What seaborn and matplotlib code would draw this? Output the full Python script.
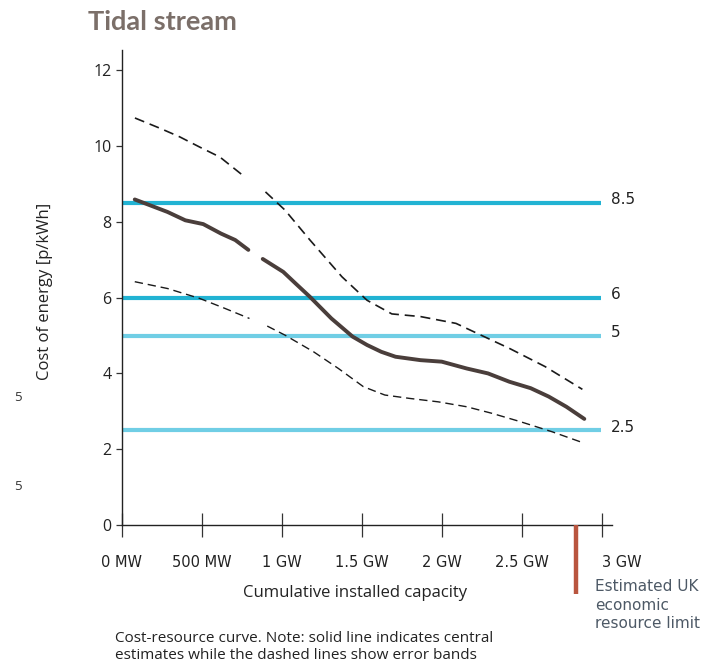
import matplotlib
matplotlib.use("Agg")
import matplotlib.pyplot as plt
import seaborn as sns
import pandas as pd

# central estimate (two pieces, gap around 850 MW)
central_mw_a = [80, 285, 396, 508, 619, 708, 790]
central_a = [8.59, 8.26, 8.04, 7.94, 7.69, 7.52, 7.26]
central_mw_b = [880, 1008, 1086, 1175, 1309, 1442, 1532, 1621, 1710, 1866,
                1999, 2155, 2288, 2422, 2555, 2667, 2778, 2890]
central_b = [7.02, 6.68, 6.37, 6.02, 5.45, 4.97, 4.75, 4.57, 4.44, 4.35,
             4.31, 4.13, 4.00, 3.78, 3.61, 3.39, 3.12, 2.80]

# upper error band
upper_mw_a = [81, 237, 362, 487, 612, 769]
upper_a = [10.74, 10.47, 10.24, 9.97, 9.71, 9.18]
upper_mw_b = [897, 1019, 1175, 1375, 1532, 1687, 1866, 2088, 2244, 2422, 2645, 2878]
upper_b = [8.79, 8.31, 7.52, 6.55, 5.93, 5.57, 5.50, 5.32, 5.01, 4.66, 4.18, 3.58]

# lower error band
lower_mw_a = [80, 285, 485, 641, 797]
lower_a = [6.42, 6.24, 5.98, 5.72, 5.45]
lower_mw_b = [908, 1019, 1198, 1353, 1509, 1643, 1799, 1977, 2155, 2310,
              2488, 2689, 2889]
lower_b = [5.25, 5.01, 4.57, 4.13, 3.65, 3.43, 3.34, 3.25, 3.12, 2.95,
           2.73, 2.46, 2.16]

# reference price levels
levels = [8.5, 6, 5, 2.5]
level_labels = ["8.5", "6", "5", "2.5"]
level_colors = ["#22b3d3", "#22b3d3", "#70cee5", "#70cee5"]

x_ticks = [0, 500, 1000, 1500, 2000, 2500, 3000]
x_tick_labels = ["0 MW", "500 MW", "1 GW", "1.5 GW", "2 GW", "2.5 GW", "3 GW"]
y_ticks = [0, 2, 4, 6, 8, 10, 12]

resource_limit_mw = 2837


def make_df(mw_a, val_a, mw_b, val_b):
    return pd.DataFrame({
        "mw": mw_a + mw_b,
        "cost": val_a + val_b,
        "seg": ["a"] * len(mw_a) + ["b"] * len(mw_b),
    })


sns.set_style("ticks")
plt.rcParams["font.family"] = ["Open Sans", "DejaVu Sans"]

fig = plt.figure(figsize=(7.12, 6.66), dpi=100)
ax = fig.add_axes([0.1713, 0.2117, 0.688, 0.713])

ax.hlines(levels, 0, 2995, colors=level_colors, lw=3.0, zorder=1)
for lv, lab in zip(levels, level_labels):
    ax.text(3055, lv + 0.08, lab, fontsize=11, color="#222222",
            va="center", ha="left", clip_on=False, family="DejaVu Sans")

sns.lineplot(data=make_df(upper_mw_a, upper_a, upper_mw_b, upper_b),
             x="mw", y="cost", units="seg", estimator=None, ax=ax,
             color="#1a1a1a", lw=1.2, linestyle=(0, (6, 3.5)), zorder=2)
sns.lineplot(data=make_df(lower_mw_a, lower_a, lower_mw_b, lower_b),
             x="mw", y="cost", units="seg", estimator=None, ax=ax,
             color="#1a1a1a", lw=1.0, linestyle=(0, (6, 3.5)), zorder=2)
sns.lineplot(data=make_df(central_mw_a, central_a, central_mw_b, central_b),
             x="mw", y="cost", units="seg", estimator=None, ax=ax,
             color="#4a3e3b", lw=2.8, zorder=3, solid_capstyle="round")

ax.vlines(resource_limit_mw, -1.82, 0, colors="#b9553f", lw=3.2,
          clip_on=False, zorder=4)

ax.set_xlim(0, 3062)
ax.set_ylim(0, 12.53)
ax.set_xticks(x_ticks)
ax.set_xticklabels(x_tick_labels, fontsize=10.5, color="#222222",
                   family="DejaVu Sans")
ax.set_yticks(y_ticks)
ax.set_yticklabels([str(v) for v in y_ticks], fontsize=11.5, color="#222222")
ax.tick_params(axis="x", direction="inout", length=17, width=0.9,
               pad=13, color="#333333")
ax.tick_params(axis="y", direction="out", length=4.5, width=0.9,
               pad=3, color="#333333")
ax.get_xticklabels()[-1].set_ha("left")
ax.get_xticklabels()[-1].set_x(2970)
sns.despine(ax=ax)
for s in ("left", "bottom"):
    ax.spines[s].set_linewidth(1.0)
    ax.spines[s].set_color("#222222")
ax.set_xlabel("")
ax.set_ylabel("")

fig.text(88 / 712, 1 - 22 / 666, "Tidal stream", fontsize=19.5,
         fontweight="bold", color="#7b6f69", va="center", ha="left",
         family="Lato")
fig.text(45 / 712, 1 - 291 / 666, "Cost of energy [p/kWh]", fontsize=12,
         rotation=90, va="center", ha="center", color="#222222")
fig.text(355 / 712, 1 - 593 / 666, "Cumulative installed capacity",
         fontsize=12, va="center", ha="center", color="#222222")
fig.text(595 / 712, 1 - 605 / 666, "Estimated UK\neconomic\nresource limit",
         fontsize=11, va="center", ha="left", color="#4d5966",
         linespacing=1.3, family="DejaVu Sans")
fig.text(115 / 712, 1 - 647 / 666,
         "Cost-resource curve. Note: solid line indicates central\n"
         "estimates while the dashed lines show error bands",
         fontsize=11, va="center", ha="left", color="#222222",
         linespacing=1.2)
fig.text(18 / 712, 1 - 397 / 666, "5", fontsize=9.5, color="#333333",
         va="center", ha="center")
fig.text(18 / 712, 1 - 487 / 666, "5", fontsize=9.5, color="#333333",
         va="center", ha="center")

fig.savefig("out.png", dpi=100, facecolor="white")
